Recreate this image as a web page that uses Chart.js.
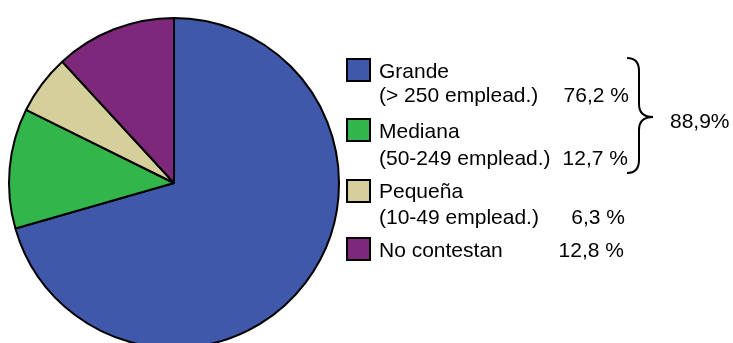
<!DOCTYPE html>
<html lang="es">
<head>
<meta charset="utf-8">
<title>Tamaño de empresa</title>
<script src="https://cdn.jsdelivr.net/npm/chart.js@4"></script>
<style>
  html, body { margin: 0; padding: 0; background: #ffffff; }
  #wrap { position: relative; width: 733px; height: 343px; overflow: hidden; background: #ffffff; }
  #pie { position: absolute; left: 0; top: 0; }
  .txt {
    position: absolute;
    font-family: "Liberation Sans", Arial, sans-serif;
    font-size: 21px;
    line-height: 24px;
    color: #000000;
    white-space: nowrap;
  }
  .swatch { position: absolute; box-sizing: border-box; width: 25px; height: 24px; border: 2px solid #000000; }
  #brace { position: absolute; left: 0; top: 0; }
</style>
</head>
<body>
<div id="wrap">
  <canvas id="pie" width="733" height="343"></canvas>
  <svg id="brace" width="733" height="343"></svg>
</div>
<script>
// Company size categories and their shares (%)
const categories = ['Grande', 'Mediana', 'Pequeña', 'No contestan'];
const sizeRanges = ['(> 250 emplead.)', '(50-249 emplead.)', '(10-49 emplead.)', ''];
const shares = [76.2, 12.7, 6.3, 12.8];
// Categories grouped by the brace (Grande + Mediana)
const bracedGroup = [0, 1];

const sliceColors = ['#3F58A9', '#32B64C', '#D4CF9B', '#7D287B'];

// Legend layout (pixel baselines / edges)
const FONT_ASCENT = 19.3;            // baseline offset inside a 24px line box at 21px
const rowTop = [58, 118, 179, 237];  // swatch tops
const nameBase = [78, 138, 198, 257];
const rangeBase = [102, 165, 224, null];
const pctBase = [102, 165, 224, 257];
const pctRight = [629, 628, 625, 624];

const fmt = v => v.toFixed(1).replace('.', ',');

const wrap = document.getElementById('wrap');
function addText(str, baseline, opts) {
  const d = document.createElement('div');
  d.className = 'txt';
  d.textContent = str;
  d.style.top = (baseline - FONT_ASCENT) + 'px';
  if (opts.left !== undefined) d.style.left = opts.left + 'px';
  if (opts.right !== undefined) d.style.right = (733 - opts.right) + 'px';
  wrap.appendChild(d);
}

categories.forEach((name, i) => {
  const sw = document.createElement('div');
  sw.className = 'swatch';
  sw.style.left = '346px';
  sw.style.top = rowTop[i] + 'px';
  sw.style.background = sliceColors[i];
  wrap.appendChild(sw);
  addText(name, nameBase[i], { left: 379 });
  if (sizeRanges[i]) addText(sizeRanges[i], rangeBase[i], { left: 379 });
  addText(fmt(shares[i]) + ' %', pctBase[i], { right: pctRight[i] });
});

// Brace joining the first two rows, with their combined share
const groupTotal = bracedGroup.reduce((s, i) => s + shares[i], 0);
const svgNS = 'http://www.w3.org/2000/svg';
const path = document.createElementNS(svgNS, 'path');
path.setAttribute('d', 'M627,58 Q639,58 639,71 L639,104 Q639,117 653,117 Q639,117 639,130 L639,160 Q639,173 627,173');
path.setAttribute('fill', 'none');
path.setAttribute('stroke', '#000000');
path.setAttribute('stroke-width', '2');
document.getElementById('brace').appendChild(path);
addText(fmt(groupTotal) + '%', 128, { left: 670 });

// Pie centred at (174,183) with a fixed radius; it runs past the bottom edge
new Chart(document.getElementById('pie'), {
  type: 'pie',
  data: {
    labels: categories,
    datasets: [{
      data: shares,
      backgroundColor: sliceColors,
      borderColor: '#000000',
      borderWidth: 2,
      radius: 165,
      clip: false
    }]
  },
  options: {
    responsive: false,
    animation: false,
    layout: { padding: { left: 0, right: 385, top: 23, bottom: 0 } },
    plugins: {
      legend: { display: false },
      tooltip: { enabled: false }
    }
  }
});
</script>
</body>
</html>
